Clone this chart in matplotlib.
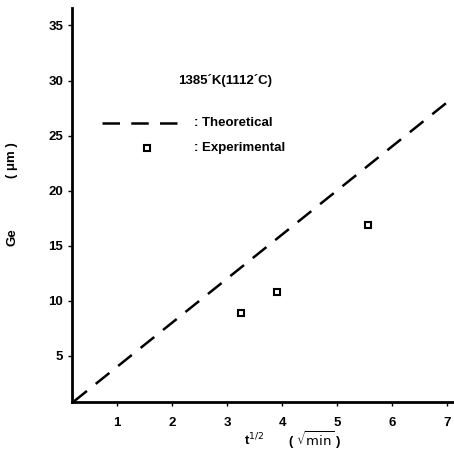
import matplotlib
matplotlib.use("Agg")
import matplotlib.pyplot as plt

plt.rcParams['font.family'] = ['Liberation Sans', 'DejaVu Sans']

# Data
theory_x = [0.2, 7.0]
theory_y = [0.8, 28.0]
exp_x = [3.25, 3.9, 5.57]
exp_y = [8.9, 10.8, 16.9]
xticks = [1, 2, 3, 4, 5, 6, 7]
yticks = [5, 10, 15, 20, 25, 30, 35]

FS = 9.5

fig = plt.figure(figsize=(4.54, 4.63), dpi=100)
ax = fig.add_axes([0.159, 0.132, 0.841, 0.851])

ax.plot(theory_x, theory_y, color='black', lw=1.8, dashes=(7, 4.5))
ax.plot(exp_x, exp_y, linestyle='none', marker='s', ms=5, mfc='white',
        mec='black', mew=1.5)

# legend drawn manually
ax.plot([0.73, 2.24], [26.1, 26.1], color='black', lw=1.8, dashes=(7, 4.5))
ax.plot([1.55], [23.9], linestyle='none', marker='s', ms=5, mfc='white',
        mec='black', mew=1.5)
ax.text(2.4, 26.1, ': Theoretical', fontsize=FS, fontweight='bold', va='center')
ax.text(2.4, 23.9, ': Experimental', fontsize=FS, fontweight='bold', va='center')
ax.text(2.97, 30.0, "1385\u00b4K(1112\u00b4C)", fontsize=FS, fontweight='bold',
        ha='center', va='center')

ax.set_xlim(0.18, 7.13)
ax.set_ylim(0.8, 36.6)
ax.set_xticks(xticks)
ax.set_yticks(yticks)
ax.tick_params(direction='out', length=3, width=1, labelsize=FS)
for lab in ax.get_xticklabels() + ax.get_yticklabels():
    lab.set_fontweight('bold')
ax.tick_params(axis='x', pad=8)
for s in ['top', 'right']:
    ax.spines[s].set_visible(False)
for s in ['left', 'bottom']:
    ax.spines[s].set_linewidth(2)

fig.text(12 / 454, 1 - 237 / 463, 'Ge', rotation=90, fontsize=FS,
         fontweight='bold', ha='center', va='center')
fig.text(12 / 454, 1 - 160 / 463, '( \u03bcm )', rotation=90, fontsize=FS,
         fontweight='bold', ha='center', va='center')
fig.text(254 / 454, 1 - 440 / 463, r't$^{1/2}$', fontsize=FS,
         fontweight='bold', ha='center', va='center')
fig.text(315 / 454, 1 - 440 / 463, r'( $\sqrt{\mathrm{min}}$ )', fontsize=FS,
         fontweight='bold', ha='center', va='center')

fig.savefig('out.png', dpi=100)
